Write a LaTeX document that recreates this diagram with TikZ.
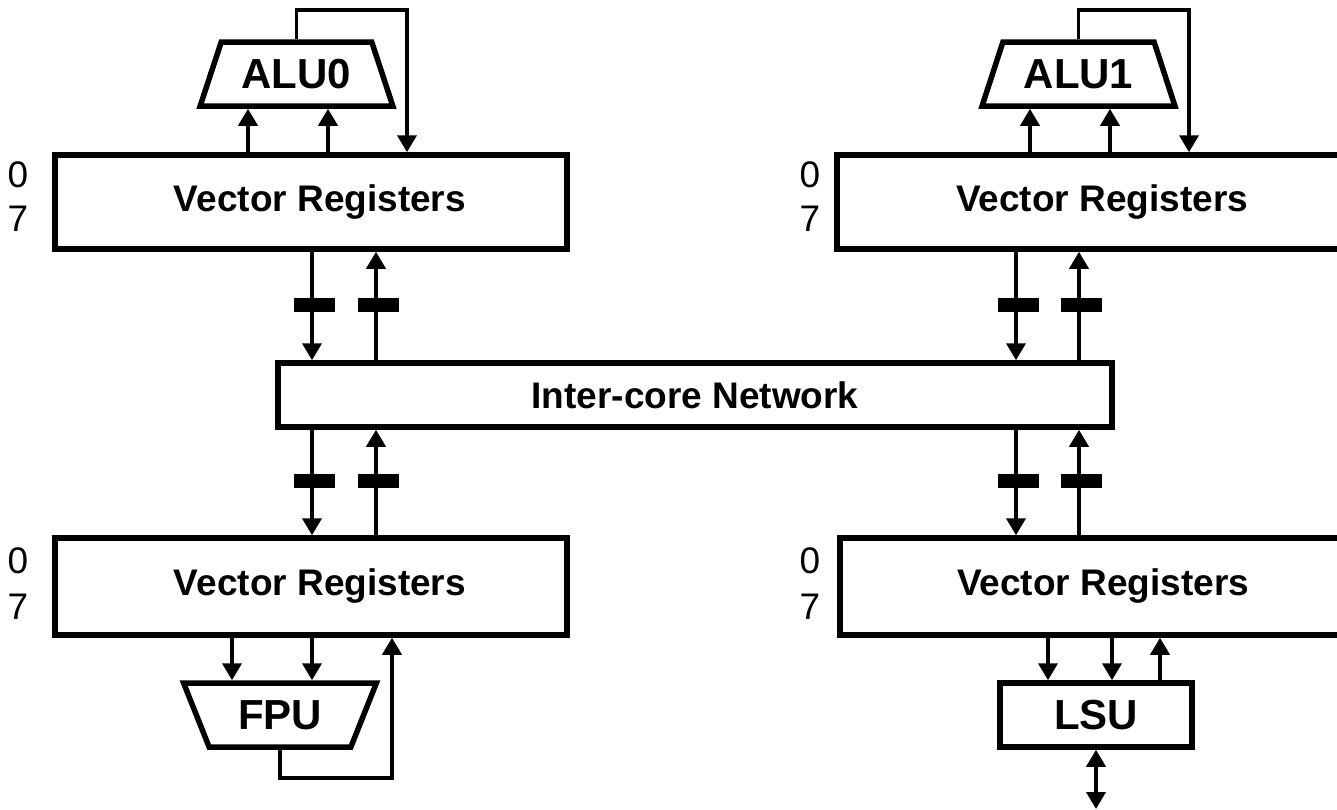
\documentclass[tikz,border=0pt]{standalone}
\usepackage{fontspec}
\setmainfont{Liberation Sans}
\usetikzlibrary{arrows.meta,shapes.geometric}
\begin{document}
\begin{tikzpicture}[x=1pt,y=-1pt,
  box/.style={draw, line width=5.5pt, minimum width=512pt, minimum height=94pt, inner sep=0pt},
  vt/.style={font=\fontsize{37}{42}\selectfont\bfseries, inner sep=0pt},
  unit/.style={font=\fontsize{42}{46}\selectfont\bfseries, inner sep=0pt},
  num/.style={font=\fontsize{37}{42}\selectfont, inner sep=0pt},
  tip/.tip={Triangle[width=19pt,length=17pt]},
  conn/.style={line width=3.8pt, -tip},
  bar/.style={fill=black, draw=none, minimum width=41pt, minimum height=14pt, inner sep=0pt},
  alu/.style={trapezium, draw, line width=5.5pt, trapezium angle=62.7, trapezium stretches=true,
     minimum width=193pt, minimum height=64pt, inner sep=0pt, font=\fontsize{42}{46}\selectfont\bfseries},
]
\useasboundingbox (0,0) rectangle (1337,809);

% vector register boxes
\node[box] (vrA) at (311,202) {};
\node[box] (vrB) at (1093,202) {};
\node[box, minimum height=97pt] (vrC) at (311,586.5) {};
\node[box, minimum height=97pt] (vrD) at (1096,586.5) {};
\node[vt] (tA) at (320,202) {Vector Registers};
\node[vt] (tB) at (1102,202) {Vector Registers};
\node[vt] (tC) at (320,586.5) {Vector Registers};
\node[vt] (tD) at (1103,586.5) {Vector Registers};

% register index labels
\node[num] (a0) at (18,175) {0};
\node[num] (a7) at (18,219) {7};
\node[num] (b0) at (810,175) {0};
\node[num] (b7) at (810,219) {7};
\node[num] (c0) at (18,561) {0};
\node[num] (c7) at (18,607) {7};
\node[num] (d0) at (810,561) {0};
\node[num] (d7) at (810,607) {7};

% network
\node[box, minimum width=834pt, minimum height=64pt, vt] (net) at (695,395) {Inter-core Network};

% functional units
\node[alu] (aluA) at (296.5,74) {ALU0};
\node[alu] (aluB) at (1078.5,74) {ALU1};
\node[alu, shape border rotate=180] (fpu) at (280,715) {FPU};
\node[box, minimum width=192pt, minimum height=64pt, unit] (lsu) at (1096,715) {LSU};
\coordinate (mem) at (1096,809);

% ALU0 connections
\draw[conn] (248,0 |- vrA.north) -- (248,0 |- aluA.south);
\draw[conn] (328,0 |- vrA.north) -- (328,0 |- aluA.south);
\draw[conn] (aluA.north) |- (407,10) -- (407,0 |- vrA.north);
% ALU1 connections
\draw[conn] (1030,0 |- vrB.north) -- (1030,0 |- aluB.south);
\draw[conn] (1110,0 |- vrB.north) -- (1110,0 |- aluB.south);
\draw[conn] (aluB.north) |- (1189,10) -- (1189,0 |- vrB.north);

% network links, left
\draw[conn] (312,0 |- vrA.south) -- (312,0 |- net.north);
\draw[conn] (376,0 |- net.north) -- (376,0 |- vrA.south);
\draw[conn] (312,0 |- net.south) -- (312,0 |- vrC.north);
\draw[conn] (376,0 |- vrC.north) -- (376,0 |- net.south);
% network links, right
\draw[conn] (1016,0 |- vrB.south) -- (1016,0 |- net.north);
\draw[conn] (1079,0 |- net.north) -- (1079,0 |- vrB.south);
\draw[conn] (1016,0 |- net.south) -- (1016,0 |- vrD.north);
\draw[conn] (1079,0 |- vrD.north) -- (1079,0 |- net.south);

% pipeline bars
\node[bar] (p1) at (314,304.5) {};
\node[bar] (p2) at (378,304.5) {};
\node[bar] (p3) at (1018,304.5) {};
\node[bar] (p4) at (1081,304.5) {};
\node[bar] (p5) at (314,480.5) {};
\node[bar] (p6) at (378,480.5) {};
\node[bar] (p7) at (1018,480.5) {};
\node[bar] (p8) at (1081,480.5) {};

% FPU connections
\draw[conn] (232,0 |- vrC.south) -- (232,0 |- fpu.north);
\draw[conn] (312,0 |- vrC.south) -- (312,0 |- fpu.north);
\draw[conn] (fpu.south) |- (392,778) -- (392,0 |- vrC.south);

% LSU connections
\draw[conn] (1048,0 |- vrD.south) -- (1048,0 |- lsu.north);
\draw[conn] (1112,0 |- vrD.south) -- (1112,0 |- lsu.north);
\draw[conn] (1160,0 |- lsu.north) -- (1160,0 |- vrD.south);
\draw[line width=3.8pt, tip-tip] (lsu.south) -- (mem);
\end{tikzpicture}
\end{document}
